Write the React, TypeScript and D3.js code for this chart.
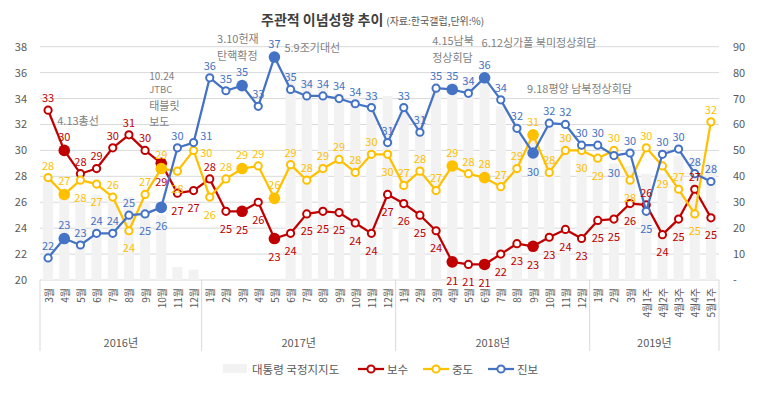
import { useEffect, useRef } from 'react';
import * as d3 from 'd3';

// categories (x axis)
const monthLabels = [
  '3월', '4월', '5월', '6월', '7월', '8월', '9월', '10월', '11월', '12월',
  '1월', '2월', '3월', '4월', '5월', '6월', '7월', '8월', '9월', '10월', '11월', '12월',
  '1월', '2월', '3월', '4월', '5월', '6월', '7월', '8월', '9월', '10월', '11월', '12월',
  '1월', '2월', '3월', '4월1주', '4월2주', '4월3주', '4월4주', '5월1주',
];
const yearLabels = ['2016년', '2017년', '2018년', '2019년'];
const yearCounts = [10, 12, 12, 8];

// 대통령 국정지지도 (right axis, %)
const approval = [
  40, 34, 31, 33, 31, 32, 30, 25, 5, 4,
  null, null, null, null, null, 80, 77, 75, 72, 71, 72, 71,
  66, 64, 73, 76, 78, 77, 67, 60, 55, 61, 56, 49,
  47, 45, 44, 41, 41, 48, 47, 45,
];

// 보수
const conservative = [
  33.1, 30.0, 28.2, 28.6, 30.2, 31.2, 30.0, 29.0, 26.7, 26.9,
  27.8, 25.3, 25.3, 26.0, 23.2, 23.6, 25.1, 25.3, 25.2, 24.4, 23.6, 26.6,
  25.9, 25.0, 23.8, 21.4, 21.2, 21.2, 22.0, 22.8, 22.6, 23.3, 23.9, 23.2,
  24.6, 24.7, 25.9, 25.8, 23.5, 24.7, 27.0, 24.8,
];

// 중도
const moderate = [
  27.9, 26.6, 27.7, 27.4, 26.4, 23.8, 26.6, 28.6, 28.4, 30.0,
  26.4, 27.8, 28.6, 28.8, 26.3, 28.9, 27.7, 28.6, 29.3, 28.3, 29.7, 29.7,
  27.3, 28.4, 26.9, 28.8, 28.2, 27.9, 27.2, 28.6, 31.2, 28.3, 30.0, 30.0,
  29.4, 30.0, 27.7, 30.2, 28.8, 27.0, 25.1, 32.2,
];

// 진보
const progressive = [
  21.7, 23.2, 22.7, 23.6, 23.6, 25.0, 25.1, 25.6, 30.2, 30.6,
  35.6, 34.6, 35.0, 33.4, 37.2, 34.7, 34.2, 34.2, 34.0, 33.6, 33.3, 30.6,
  33.3, 31.4, 34.8, 34.7, 34.4, 35.6, 33.9, 31.7, 29.8, 32.1, 32.0, 30.4,
  30.4, 29.6, 29.8, 25.3, 29.7, 30.1, 28.2, 27.6,
];

// months with events (big filled markers)
const eventIdx = [1, 7, 12, 14, 25, 27, 30];

// label placement: t = above, b = below, r = right, q = right-above
const conservativeLabelPos = 'tttttttbbb' + 'tbbbbbbbbbbb' + 'bbbbbbbbbbbb' + 'bbbtbbtb';
const moderateLabelPos = 'ttbbtbttbr' + 'bttttttttttb' + 'tttttttttttb' + 'btbtbtbt';
const progressiveLabelPos = 'ttttttbbtq' + 'tttttttttttt' + 'ttttttttbttt' + 'tbtbtttt';

const annotations = [
  { i: 1, dx: -7, lines: [{ t: '4.13총선', y: 120, s: 11 }] },
  {
    i: 7,
    dx: -12,
    lines: [
      { t: '10.24', y: 75, s: 10 },
      { t: 'JTBC', y: 89, s: 9.5 },
      { t: '태블릿', y: 105, s: 11 },
      { t: '보도', y: 121, s: 11 },
    ],
  },
  { i: 12, dx: -25, lines: [{ t: '3.10헌재', y: 38, s: 11 }, { t: '탄핵확정', y: 55, s: 11 }] },
  { i: 14, dx: 10, lines: [{ t: '5.9조기대선', y: 47, s: 11 }] },
  { i: 25, dx: -20, lines: [{ t: '4.15남북', y: 40, s: 11 }, { t: '정상회담', y: 57, s: 11 }] },
  { i: 27, dx: -3, lines: [{ t: '6.12싱가폴 북미정상회담', y: 42, s: 11 }] },
  { i: 30, dx: -6, lines: [{ t: '9.18평양 남북정상회담', y: 88, s: 11 }] },
];

const FONT = "'Noto Sans CJK KR', 'Noto Sans', sans-serif";

const App = () => {
  const svgRef = useRef(null);

  useEffect(() => {
    const svg = d3.select(svgRef.current);
    svg.selectAll('*').remove();

    const left = 40;
    const right = 719;
    const top = 46.7;
    const bottom = 280;

    const x = d3
      .scaleBand()
      .domain(d3.range(monthLabels.length))
      .range([left, right])
      .paddingInner(0.38)
      .paddingOuter(0.19);
    const cx = (i) => x(i) + x.bandwidth() / 2;
    const step = x.step();

    const yL = d3.scaleLinear().domain([20, 38]).range([bottom, top]);
    const yR = d3.scaleLinear().domain([0, 90]).range([bottom, top]);

    // gridlines
    svg
      .append('g')
      .selectAll('line')
      .data(d3.range(20, 39, 2))
      .join('line')
      .attr('x1', left)
      .attr('x2', right)
      .attr('y1', (d) => yL(d))
      .attr('y2', (d) => yL(d))
      .attr('stroke', '#d9d9d9')
      .attr('stroke-width', 1);

    // axes
    const styleAxis = (g) => {
      g.select('.domain').remove();
      g.attr('font-family', FONT).attr('font-size', 11);
      g.selectAll('text').attr('fill', '#595959');
    };
    svg
      .append('g')
      .attr('transform', `translate(${left},0)`)
      .call(d3.axisLeft(yL).tickValues(d3.range(20, 39, 2)).tickSize(0).tickPadding(13))
      .call(styleAxis);
    svg
      .append('g')
      .attr('transform', `translate(${right},0)`)
      .call(
        d3
          .axisRight(yR)
          .tickValues(d3.range(0, 91, 10))
          .tickFormat((d) => (d === 0 ? '-' : String(d)))
          .tickSize(0)
          .tickPadding(14)
      )
      .call(styleAxis);

    // category separators
    let acc = 0;
    const bounds = [0];
    yearCounts.forEach((c) => {
      acc += c;
      bounds.push(acc);
    });
    svg
      .append('g')
      .selectAll('line')
      .data(bounds)
      .join('line')
      .attr('x1', (d) => left + d * step)
      .attr('x2', (d) => left + d * step)
      .attr('y1', bottom)
      .attr('y2', 351)
      .attr('stroke', '#d9d9d9');

    // month labels (rotated)
    svg
      .append('g')
      .selectAll('text')
      .data(monthLabels)
      .join('text')
      .attr('transform', (d, i) => `translate(${cx(i)},288) rotate(-90)`)
      .attr('text-anchor', 'end')
      .attr('dominant-baseline', 'central')
      .attr('font-family', FONT)
      .attr('font-size', 10)
      .attr('fill', '#595959')
      .text((d) => d);

    // year labels
    svg
      .append('g')
      .selectAll('text')
      .data(yearLabels)
      .join('text')
      .attr('x', (d, i) => left + ((bounds[i] + bounds[i + 1]) / 2) * step)
      .attr('y', 342)
      .attr('text-anchor', 'middle')
      .attr('dominant-baseline', 'central')
      .attr('font-family', FONT)
      .attr('font-size', 11)
      .attr('fill', '#595959')
      .text((d) => d);

    // approval bars
    svg
      .append('g')
      .selectAll('rect')
      .data(approval.map((v, i) => ({ v, i })).filter((d) => d.v != null))
      .join('rect')
      .attr('x', (d) => x(d.i))
      .attr('width', x.bandwidth())
      .attr('y', (d) => yR(d.v))
      .attr('height', (d) => bottom - yR(d.v))
      .attr('fill', '#f2f2f2');

    const series = [
      { values: conservative, color: '#c00000', pos: conservativeLabelPos },
      { values: moderate, color: '#ffc000', pos: moderateLabelPos },
      { values: progressive, color: '#4472c4', pos: progressiveLabelPos },
    ];

    const line = d3
      .line()
      .x((d, i) => cx(i))
      .y((d) => yL(d));

    series.forEach((s) => {
      svg
        .append('path')
        .datum(s.values)
        .attr('fill', 'none')
        .attr('stroke', s.color)
        .attr('stroke-width', 2.25)
        .attr('stroke-linejoin', 'round')
        .attr('d', line);

      svg
        .append('g')
        .selectAll('circle')
        .data(s.values)
        .join('circle')
        .attr('cx', (d, i) => cx(i))
        .attr('cy', (d) => yL(d))
        .attr('r', (d, i) => (eventIdx.includes(i) ? 5.8 : 3.6))
        .attr('fill', (d, i) => (eventIdx.includes(i) ? s.color : '#fff'))
        .attr('stroke', s.color)
        .attr('stroke-width', (d, i) => (eventIdx.includes(i) ? 0 : 2));
    });

    // data labels
    series.forEach((s) => {
      svg
        .append('g')
        .selectAll('text')
        .data(s.values)
        .join('text')
        .attr('x', (d, i) => {
          const r = eventIdx.includes(i) ? 5.8 : 4.6;
          const p = s.pos[i];
          return p === 'r' || p === 'q' ? cx(i) + r + 2 : cx(i);
        })
        .attr('y', (d, i) => {
          const r = eventIdx.includes(i) ? 5.8 : 4.6;
          const p = s.pos[i];
          if (p === 't') return yL(d) - (r + 8.5);
          if (p === 'b') return yL(d) + (r + 12);
          if (p === 'q') return yL(d) - 8;
          return yL(d) + 1.5;
        })
        .attr('text-anchor', (d, i) => (s.pos[i] === 'r' || s.pos[i] === 'q' ? 'start' : 'middle'))
        .attr('dominant-baseline', 'central')
        .attr('font-family', FONT)
        .attr('font-size', 11)
        .attr('fill', s.color)
        .text((d) => d3.format('.0f')(d));
    });

    // event annotations
    annotations.forEach((a) => {
      a.lines.forEach((l) => {
        svg
          .append('text')
          .attr('x', cx(a.i) + a.dx)
          .attr('y', l.y)
          .attr('dominant-baseline', 'central')
          .attr('font-family', FONT)
          .attr('font-size', l.s)
          .attr('fill', '#7f7f7f')
          .text(l.t);
      });
    });

    // title
    const title = svg
      .append('text')
      .attr('x', 261)
      .attr('y', 25)
      .attr('font-family', FONT)
      .attr('fill', '#404040');
    title.append('tspan').attr('font-size', 14).attr('font-weight', 'bold').text('주관적 이념성향 추이');
    title
      .append('tspan')
      .attr('font-size', 10)
      .attr('fill', '#595959')
      .attr('dx', 3)
      .text('(자료:한국갤럽,단위:%)');

    // legend
    const legend = svg.append('g').attr('font-family', FONT).attr('font-size', 11.5).attr('fill', '#595959');
    legend.append('rect').attr('x', 223).attr('y', 364).attr('width', 24).attr('height', 9).attr('fill', '#f2f2f2');
    legend.append('text').attr('x', 252).attr('y', 369).attr('dominant-baseline', 'central').text('대통령 국정지지도');
    const legendItems = [
      { name: '보수', color: '#c00000', x: 358 },
      { name: '중도', color: '#ffc000', x: 423 },
      { name: '진보', color: '#4472c4', x: 488 },
    ];
    legendItems.forEach((it) => {
      legend
        .append('line')
        .attr('x1', it.x)
        .attr('x2', it.x + 26)
        .attr('y1', 369)
        .attr('y2', 369)
        .attr('stroke', it.color)
        .attr('stroke-width', 2.25);
      legend
        .append('circle')
        .attr('cx', it.x + 13)
        .attr('cy', 369)
        .attr('r', 3.6)
        .attr('fill', '#fff')
        .attr('stroke', it.color)
        .attr('stroke-width', 2);
      legend
        .append('text')
        .attr('x', it.x + 29)
        .attr('y', 369)
        .attr('dominant-baseline', 'central')
        .text(it.name);
    });
  }, []);

  return (
    <svg
      ref={svgRef}
      width={773}
      height={397}
      style={{ position: 'absolute', left: 0, top: 0, background: '#fff' }}
    ></svg>
  );
};

export default App;
